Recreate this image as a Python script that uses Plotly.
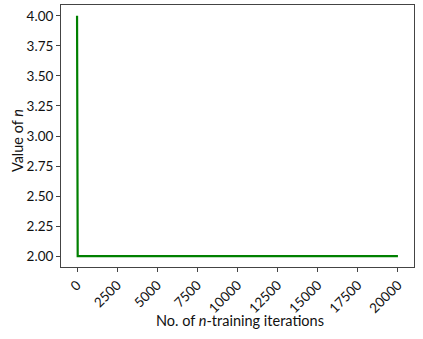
import plotly.graph_objects as go

iterations = [0, 0, 40, 40, 0, 0, 40, 40, 20000]
n_values = [4.0, 3.56, 3.63, 2.75, 2.74, 2.66, 2.73, 2.0, 2.0]
x_ticks = [0, 2500, 5000, 7500, 10000, 12500, 15000, 17500, 20000]
y_ticks = [2.00, 2.25, 2.50, 2.75, 3.00, 3.25, 3.50, 3.75, 4.00]
x_title = "No. of <i>n</i>-training iterations"
y_title = "Value of <i>n</i>"

fig = go.Figure()
fig.add_trace(go.Scatter(x=iterations, y=n_values, mode="lines",
                         line=dict(color="#008000", width=2.2), showlegend=False))

font = "Lato, 'Open Sans', sans-serif"
fig.update_layout(
    width=423, height=339,
    margin=dict(l=61, r=9, t=5, b=72, autoexpand=False),
    plot_bgcolor="white", paper_bgcolor="white",
    font=dict(family=font, size=13.5, color="#111"),
    xaxis=dict(range=[-1000, 21000], tickvals=x_ticks,
               ticktext=[str(v) for v in x_ticks], tickangle=-45,
               automargin=False,
               showgrid=False, zeroline=False, showline=True, mirror=True,
               linecolor="#444", linewidth=1, ticks="outside", ticklen=4,
               tickcolor="#444"),
    yaxis=dict(range=[1.91, 4.09], tickvals=y_ticks,
               ticktext=[f"{v:.2f}" for v in y_ticks],
               automargin=False,
               showgrid=False, zeroline=False, showline=True, mirror=True,
               linecolor="#444", linewidth=1, ticks="outside", ticklen=4,
               tickcolor="#444"),
    annotations=[
        dict(text=x_title, xref="paper", yref="paper", x=0.507, y=-0.206,
             xanchor="center", yanchor="middle", showarrow=False,
             font=dict(size=14.5)),
        dict(text=y_title, xref="paper", yref="paper", x=-0.1215, y=0.481,
             xanchor="center", yanchor="middle", textangle=-90, showarrow=False,
             font=dict(size=14.5)),
    ],
)
fig.write_html("out.html", post_script="document.body.style.margin='0';",
               config={"displayModeBar": False})
